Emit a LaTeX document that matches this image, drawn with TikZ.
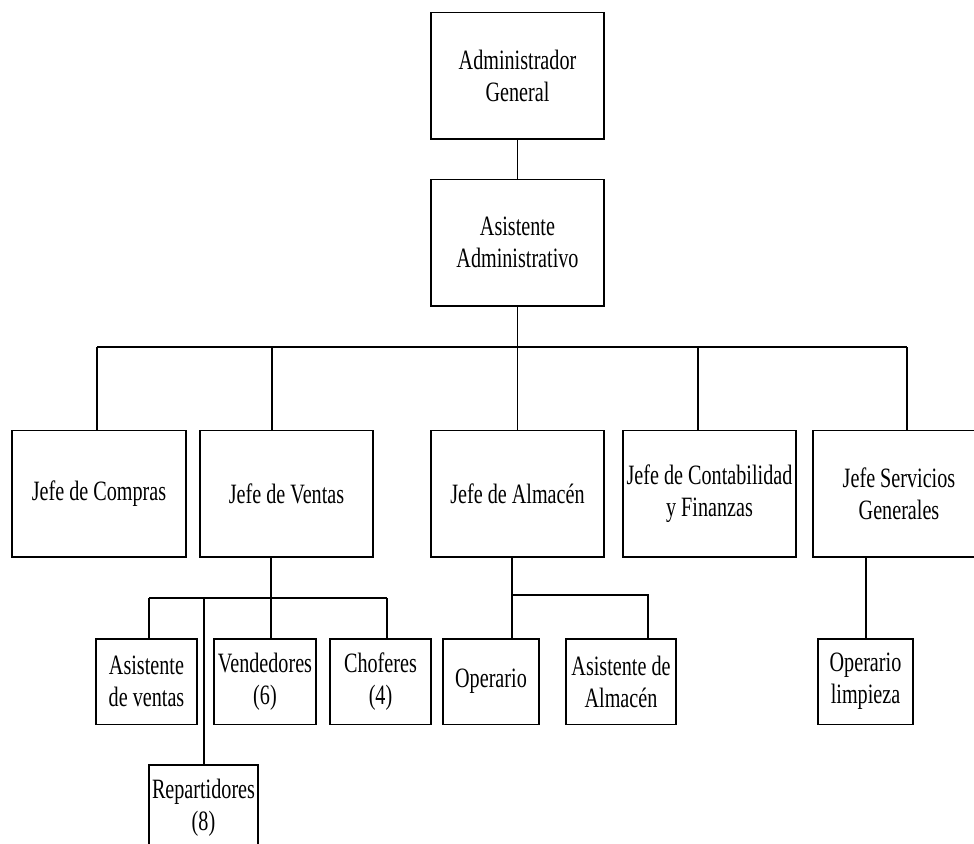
\documentclass[tikz,border=0pt]{standalone}
\usepackage{fontspec}
\setmainfont{Liberation Serif}[FakeStretch=0.72]
\usepackage{tikz}

\tikzset{
  box/.style={draw, line width=1pt, align=center, inner sep=0pt,
    font=\fontsize{21}{24}\selectfont},
  boxw/.style={minimum width=#1*0.75pt},
  tall/.style={box, minimum height=95pt},
  low/.style={box, minimum height=64pt}
}

\begin{document}
\begin{tikzpicture}[x=0.75pt, y=-0.75pt, line width=1pt]
    \useasboundingbox (0,0) rectangle (974,843) ;
    \clip (0,0) rectangle (974,843) ;

    \node[tall, boxw=173] (ag) at (517.5,75.5) {Administrador\\General} ;
    \node[tall, boxw=173] (aa) at (517.5,242.5) {Asistente\\Administrativo} ;
    \draw (ag) -- (aa) ;

    \node[tall, boxw=174] (jc) at (99,493.5) {Jefe de Compras} ;
    \node[tall, boxw=173] (jv) at (286.5,493.5) {Jefe de Ventas} ;
    \node[tall, boxw=173] (ja) at (517.5,493.5) {Jefe de Almac\'en} ;
    \node[tall, boxw=173] (jcf) at (709.5,493.5) {Jefe de Contabilidad\\y Finanzas} ;
    \node[tall, boxw=172] (js) at (899,493.5) {Jefe Servicios\\Generales} ;

    \coordinate (k1) at (97,347) ; \coordinate (k2) at (272,347) ;
    \coordinate (k3) at (517.5,347) ; \coordinate (k4) at (698,347) ;
    \coordinate (k5) at (907,347) ;
    \draw (aa) -- (k3) ; \draw (k1) -- (k5) ;
    \draw (k1) -- (k1 |- jc.north) ; \draw (k2) -- (k2 |- jv.north) ;
    \draw (k3) -- (ja) ; \draw (k4) -- (k4 |- jcf.north) ;
    \draw (k5) -- (k5 |- js.north) ;

    \node[low, boxw=101] (av) at (146.5,681.5) {Asistente\\de ventas} ;
    \node[low, boxw=102] (ve) at (265,681.5) {Vendedores\\(6)} ;
    \node[low, boxw=101] (ch) at (380.5,681.5) {Choferes\\(4)} ;
    \node[low, boxw=109] (rep) at (203.5,807.5) {Repartidores\\(8)} ;

    \coordinate (v0) at (271,598) ; \coordinate (v1) at (149,598) ;
    \coordinate (v2) at (204,598) ; \coordinate (v3) at (387,598) ;
    \draw (v0 |- jv.south) -- (v0) ; \draw (v1) -- (v3) ;
    \draw (v1) -- (v1 |- av.north) ; \draw (v2) -- (v2 |- rep.north) ;
    \draw (v0) -- (v0 |- ve.north) ; \draw (v3) -- (v3 |- ch.north) ;

    \node[low, boxw=96] (op) at (491,681.5) {Operario} ;
    \node[low, boxw=110] (asa) at (621,681.5) {Asistente de\\Almac\'en} ;
    \coordinate (a0) at (512,595) ; \coordinate (a1) at (648,595) ;
    \draw (a0 |- ja.south) -- (a0 |- op.north) ;
    \draw (a0) -- (a1) -- (a1 |- asa.north) ;

    \node[low, boxw=95] (ol) at (865.5,681.5) {Operario\\limpieza} ;
    \coordinate (s0) at (866,600) ;
    \draw (s0 |- js.south) -- (s0 |- ol.north) ;
\end{tikzpicture}
\end{document}
